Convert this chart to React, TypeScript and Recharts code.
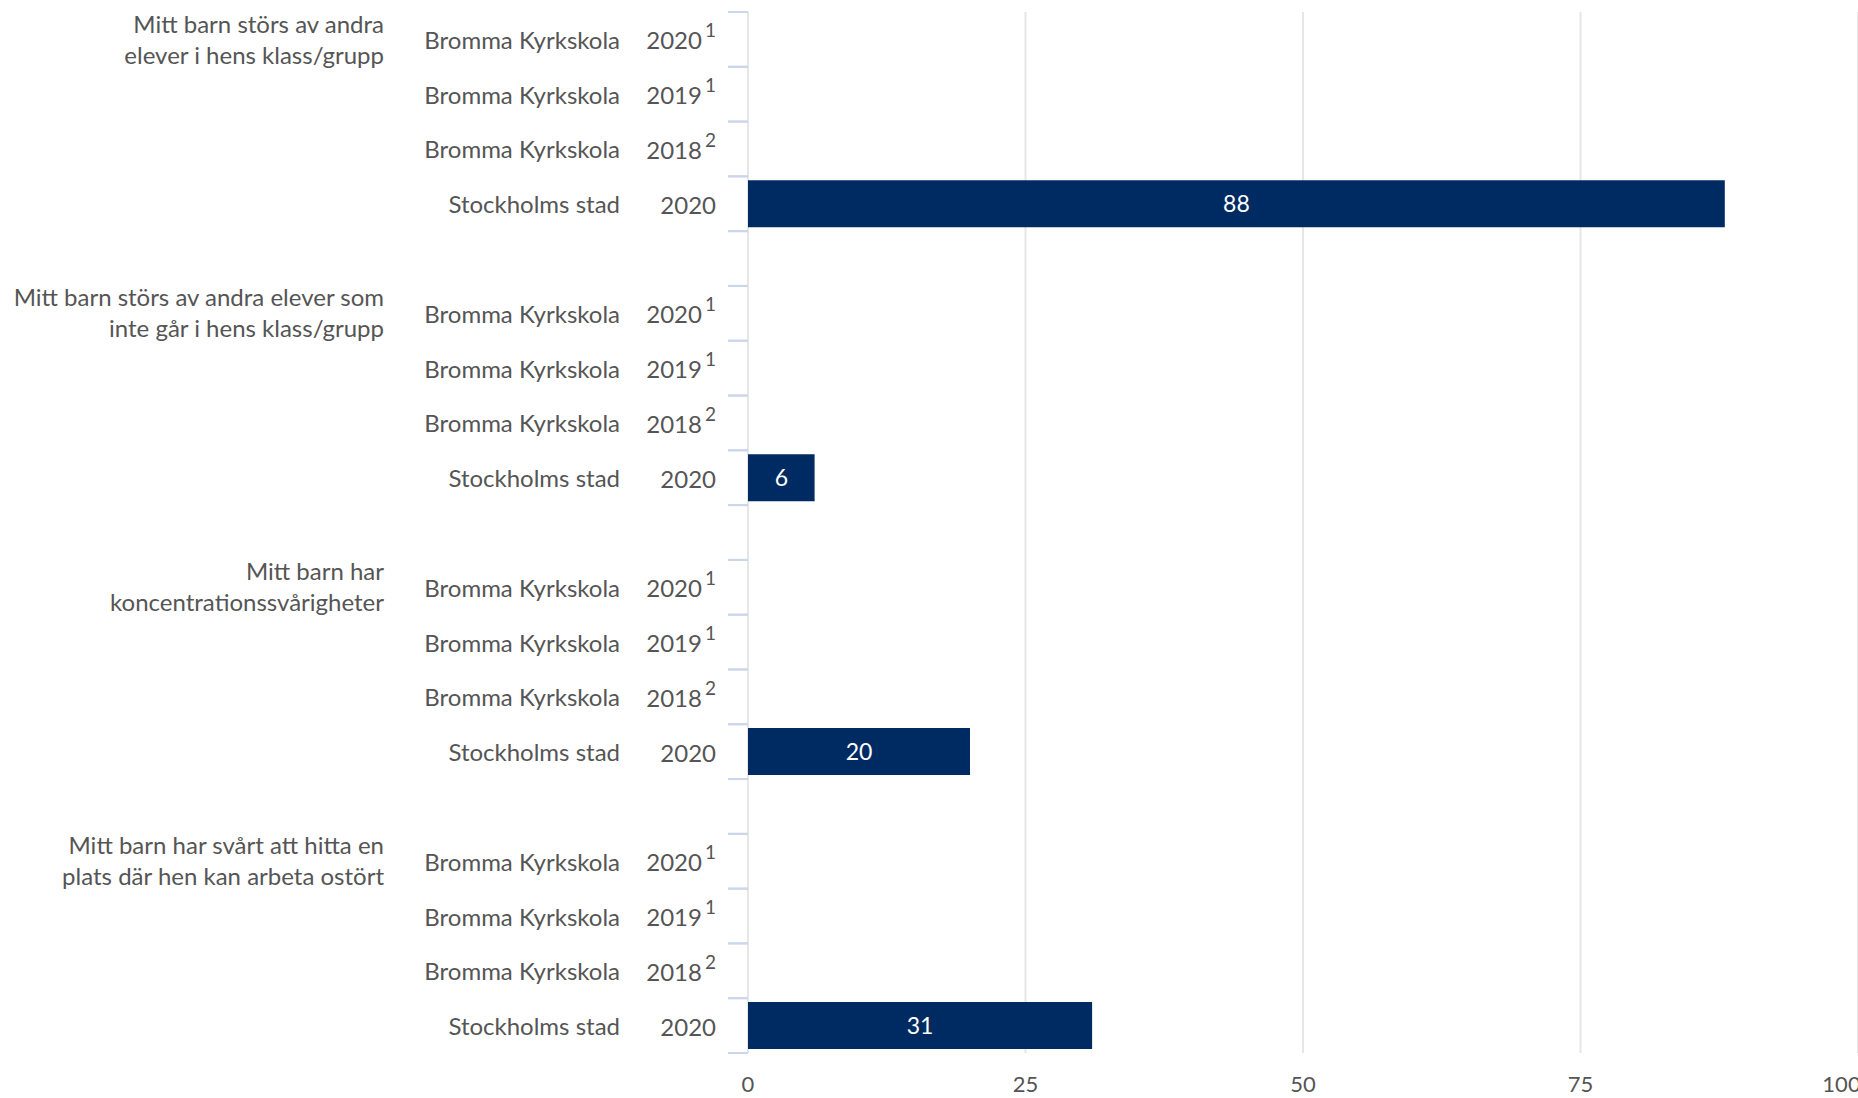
import { BarChart, Bar, XAxis, YAxis, CartesianGrid, LabelList } from "recharts";

// question groups (label split on two lines like the original)
const groupLabels = [
  ["Mitt barn störs av andra", "elever i hens klass/grupp"],
  ["Mitt barn störs av andra elever som", "inte går i hens klass/grupp"],
  ["Mitt barn har", "koncentrationssvårigheter"],
  ["Mitt barn har svårt att hitta en", "plats där hen kan arbeta ostört"],
];
const rowNames = ["Bromma Kyrkskola", "Bromma Kyrkskola", "Bromma Kyrkskola", "Stockholms stad"];
const rowYears = ["2020", "2019", "2018", "2020"];
const rowNotes = ["1", "1", "2", ""];
// only Stockholms stad has values, Bromma rows are empty
const brommaValues = [null, null, null];
const stockholmValues = [88, 6, 20, 31];
const xTicks = [0, 25, 50, 75, 100];

const FONT = "Lato, 'Open Sans', sans-serif";
const TEXT = "#555555";

const data: any[] = [];
groupLabels.forEach((g, gi) => {
  rowNames.forEach((name, ri) => {
    data.push({
      id: `g${gi}r${ri}`,
      group: gi,
      row: ri,
      value: ri < 3 ? brommaValues[ri] : stockholmValues[gi],
    });
  });
  if (gi < groupLabels.length - 1) data.push({ id: `gap${gi}`, group: gi, row: -1, value: null });
});

const CategoryTick = (props: any) => {
  const { x, y, payload } = props;
  const item = data[payload.index];
  const half = payload.offset ?? 27.4;
  const top = y - half;
  const bottom = y + half;
  return (
    <g fontFamily={FONT}>
      <line x1={x - 20} x2={x} y1={top} y2={top} stroke="#ccd6eb" strokeWidth={2} />
      <line x1={x - 20} x2={x} y1={bottom} y2={bottom} stroke="#ccd6eb" strokeWidth={2} />
      {item && item.row >= 0 && (
        <>
          <text x={x - 128} y={y} textAnchor="end" dominantBaseline="central" fontSize={24} fill={TEXT}>
            {rowNames[item.row]}
          </text>
          <text x={x - 32} y={y} textAnchor="end" dominantBaseline="central" fontSize={24} fill={TEXT}>
            <tspan>{rowYears[item.row]}</tspan>
            {rowNotes[item.row] && (
              <tspan dx={3} dy={-10} fontSize={19}>
                {rowNotes[item.row]}
              </tspan>
            )}
          </text>
        </>
      )}
      {item && item.row === 0 &&
        groupLabels[item.group].map((line, i) => (
          <text
            key={i}
            x={x - 364}
            y={top + 11 + i * 31}
            textAnchor="end"
            dominantBaseline="central"
            fontSize={24}
            fill={TEXT}
          >
            {line}
          </text>
        ))}
    </g>
  );
};

export default function App() {
  return (
    <div style={{ position: "absolute", left: 0, top: 0, background: "#fff" }}>
      <BarChart
        width={1858}
        height={1098}
        data={data}
        layout="vertical"
        margin={{ top: 12, right: 0, bottom: 0, left: 0 }}
        barCategoryGap="7%"
      >
        <CartesianGrid horizontal={false} stroke="#e6e6e6" strokeWidth={2} />
        <XAxis
          type="number"
          domain={[0, 100]}
          ticks={xTicks}
          height={45}
          axisLine={false}
          tickLine={false}
          tickSize={0}
          tickMargin={23}
          tick={{ fill: TEXT, fontSize: 22, fontFamily: FONT }}
        />
        <YAxis
          type="category"
          dataKey="id"
          width={748}
          interval={0}
          axisLine={false}
          tickLine={false}
          tickSize={0}
          tickMargin={0}
          tick={<CategoryTick />}
        />
        <Bar dataKey="value" fill="#002b62" isAnimationActive={false}>
          <LabelList dataKey="value" position="center" fill="#ffffff" fontSize={23} fontFamily={FONT} />
        </Bar>
      </BarChart>
    </div>
  );
}
